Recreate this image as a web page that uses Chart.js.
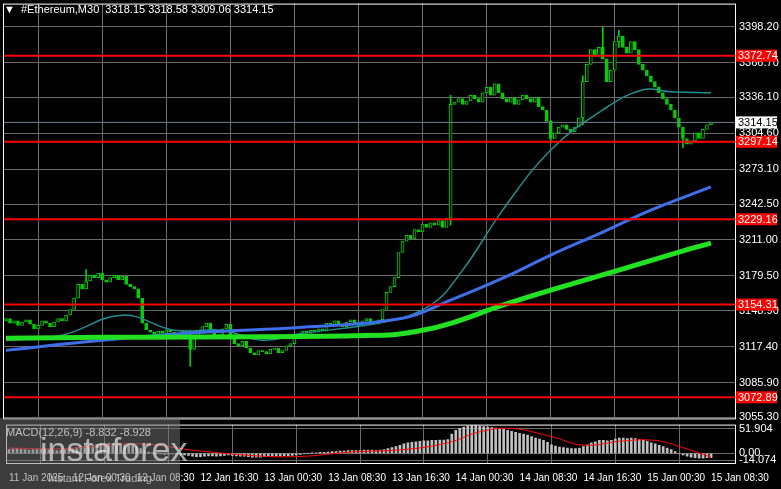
<!DOCTYPE html>
<html><head><meta charset="utf-8">
<script src="https://cdn.jsdelivr.net/npm/chart.js@4"></script>
<style>
body{margin:0;background:#000;width:781px;height:489px;overflow:hidden;position:relative;font-family:"Liberation Sans",sans-serif}
#c1{position:absolute;left:0;top:-7px}
#c2{position:absolute;left:0;top:414px}
.t{position:absolute;color:#fff;font-size:11px;white-space:pre}
</style></head><body>
<canvas id="c1" width="781" height="436"></canvas>
<canvas id="c2" width="781" height="75"></canvas>
<div class="t" style="left:4px;top:3px">▼  #Ethereum,M30  3318.15 3318.58 3309.06 3314.15</div>
<div class="t" style="left:6px;top:426px">MACD(12,26,9) -8.832 -8.928</div>
<div style="position:absolute;left:0;top:418px;width:180px;height:71px;background:rgba(120,120,120,0.5)"></div>
<div class="t" style="left:40px;top:430px;font-size:34px;color:rgba(230,230,230,0.7)">instaforex</div>
<div class="t" style="left:48px;top:472px;font-size:11px;color:rgba(230,230,230,0.7)">Instant Forex Trading</div>
<script>
const closes=[3142,3138,3140,3136,3139,3141,3137,3133,3136,3140,3138,3135,3139,3142,3140,
3145,3150,3160,3172,3168,3175,3180,3178,3182,3176,
3174,3178,3180,3176,3179,3172,3170,3168,3160,
3138,3132,3130,3128,3131,3129,3132,3130,3127,3129,3131,3128,
3115,3125,3130,
3135,3138,3130,3126,3128,3133,3137,3124,3120,3118,3122,
3116,3112,3110,3114,3113,3111,3115,3116,3112,3114,3118,3120,
3125,3128,3131,3129,3132,3130,3133,3131,
3138,3136,3140,3137,3135,3139,3141,3138,3136,3140,3142,3139,3137,3141,3150,
3165,3170,3178,3200,3210,
3215,3212,3220,3218,3225,3222,3226,3224,3228,3222,3230,
3330,
3332,3335,3330,3333,3338,3335,3332,3340,3345,3338,
3348,3340,3335,3332,3336,3330,3334,3338,3335,3332,3336,3328,3325,3315,
3300,3305,3310,3312,3308,3306,3310,3318,
3350,3365,3378,3372,3380,
3370,3350,3360,3385,3390,
3380,3375,3385,3378,3365,3360,
3355,3350,3345,3340,3335,3330,3325,
3318,3310,3300,3295,3298,3305,3300,3308,3312,3314];
const firstOpen=3140;
const spikes=[[46,3100,3132],[111,3224,3338],[149,3378,3398],[153,3380,3395],[144,3312,3355],[136,3296,3316],[169,3292,3303],[20,3168,3185]];
const maFast=[[0,3122.9],[14,3127.3],[29,3145.0],[42,3131.7],[54,3131.7],[64,3122.9],[74,3129.1],[94,3138.7],[106,3153.7],[114,3184.5],[124,3237.2],[136,3290.0],[149,3325.1],[159,3342.8],[166,3341.0],[176,3340.1]];
const maMid=[[0,3114.1],[24,3122.9],[49,3129.9],[74,3134.3],[99,3142.2],[111,3158.1],[124,3177.4],[136,3197.7],[149,3217.9],[161,3237.2],[176,3257.5]];
const maSlow=[[0,3124.7],[24,3125.6],[94,3127.3],[104,3131.7],[111,3137.8],[124,3153.7],[136,3166.9],[153,3184.5],[168,3200.3],[176,3208.2]];
const levels=[3372.74,3297.14,3229.16,3154.31,3072.89];
const lastPrice=3314.15;
const priceTicks=[3055.3,3085.9,3117.4,3148.9,3179.5,3211.0,3242.5,3273.1,3304.6,3336.1,3366.7,3398.2];
const hist=[8,9,10,9,8,7,8,9,10,9,8,7,6,7,8,
9,10,12,14,15,16,18,19,20,20,
21,20,19,18,17,16,15,13,10,
6,3,1,0,-1,-2,-2,-1,-2,-3,-3,-4,
-6,-7,-7,
-6,-5,-5,-6,-5,-4,-3,-4,-5,-6,-6,
-7,-8,-8,-8,-7,-7,-6,-6,-6,-5,-5,-4,
-3,-2,-1,0,1,1,2,2,
3,4,4,5,5,6,6,6,6,7,7,7,6,7,8,
10,12,14,17,20,
22,23,24,25,26,26,27,27,28,28,29,
40,
48,52,55,57,58,58,57,56,55,54,
53,52,50,48,46,44,42,40,38,35,32,30,27,23,
18,15,13,12,11,10,10,11,
14,18,22,24,27,
27,26,27,30,32,
32,31,32,31,29,27,
25,22,20,17,14,11,8,
4,0,-3,-6,-8,-9,-10,-10,-9,-9];
const signal=[[0,11],[14,10],[32,20],[48,5],[64,-6],[74,-6],[86,3],[99,8],[110,22],[118,45],[126,52],[136,35],[144,17],[154,26],[162,27],[169,12],[176,-8]];
const timeLabels={0:"11 Jan 2025",16:"12 Jan 00:30",32:"12 Jan 08:30",48:"12 Jan 16:30",64:"13 Jan 00:30",80:"13 Jan 08:30",96:"13 Jan 16:30",112:"14 Jan 00:30",128:"14 Jan 08:30",144:"14 Jan 16:30",160:"15 Jan 00:30",176:"15 Jan 08:30"};
const macdTicks=[-14.074,0,51.904];

const XMIN=-0.75,XMAX=182;
const FONT={size:11,family:'Liberation Sans'};
const bodies=[],wicks=[],bodyBg=[];
closes.forEach((c,i)=>{const o=i?closes[i-1]:firstOpen;bodies.push({x:i,y:[o,c===o?c+0.6:c]});bodyBg.push(c>=o?'#000':'#00d000');});
spikes.forEach(s=>wicks.push({x:s[0],y:[s[1],s[2]]}));
const pts=a=>a.map(p=>({x:p[0],y:p[1]}));
const grid={color:'#6a6a6a',borderDash:[3,3],lineWidth:1,drawTicks:false};
const vTicks=Object.keys(timeLabels).map(Number);
function afterFitW(s){s.width=46;}

const levelPlugin={id:'lv',afterDatasetsDraw(ch){
 const c=ch.ctx,y=ch.scales.y,a=ch.chartArea;c.save();
 c.font='11px "Liberation Sans"';c.textBaseline='middle';
 const py=y.getPixelForValue(lastPrice);
 c.strokeStyle='#708090';c.lineWidth=1;c.beginPath();c.moveTo(a.left,py);c.lineTo(a.right,py);c.stroke();
 levels.forEach(v=>{const p=y.getPixelForValue(v);c.strokeStyle='#ff0000';c.lineWidth=2;c.beginPath();c.moveTo(a.left,p);c.lineTo(a.right,p);c.stroke();
  c.fillStyle='#ff0000';c.fillRect(a.right+1,p-6,41,12);c.fillStyle='#fff';c.fillText(v.toFixed(2),a.right+3,p+0.5);});
 c.fillStyle='#fff';c.fillRect(a.right+1,py-6,41,12);c.fillStyle='#000';c.fillText(lastPrice.toFixed(2),a.right+3,py+0.5);
 c.strokeStyle='#fff';c.lineWidth=1;c.strokeRect(a.left+0.5,a.top+0.5,a.right-a.left,a.bottom-a.top);
 c.restore();}};

new Chart(document.getElementById('c1'),{
 data:{datasets:[
  {type:'bar',data:wicks,backgroundColor:'#00d000',barThickness:1,grouped:false,order:3},
  {type:'bar',data:bodies,backgroundColor:bodyBg,borderColor:'#00d000',borderWidth:1,borderSkipped:false,barThickness:3,grouped:false,order:2},
  {type:'line',data:pts(maSlow),borderColor:'#22e022',borderWidth:5,pointRadius:0,tension:0.4,order:1},
  {type:'line',data:pts(maMid),borderColor:'#3f6fe8',borderWidth:3,pointRadius:0,tension:0.4,order:1},
  {type:'line',data:pts(maFast),borderColor:'#1f8f8f',borderWidth:1.5,pointRadius:0,tension:0.4,order:1}
 ]},
 options:{responsive:false,animation:false,events:[],layout:{padding:{left:3,top:4,right:0,bottom:1}},
  plugins:{legend:{display:false},tooltip:{enabled:false}},
  scales:{
   x:{type:'linear',min:XMIN,max:XMAX,offset:false,grid:grid,border:{display:false},
      afterBuildTicks(s){s.ticks=vTicks.map(v=>({value:v}));},ticks:{display:false}},
   y:{position:'right',min:3054.4,max:3418.4,grid:grid,border:{display:false},afterFit:afterFitW,
      afterBuildTicks(s){s.ticks=priceTicks.map(v=>({value:v}));},
      ticks:{color:'#fff',font:FONT,padding:4,callback:v=>v.toFixed(2)}}
  }},plugins:[levelPlugin]});

const borderPlugin={id:'bd',afterDatasetsDraw(ch){const c=ch.ctx,a=ch.chartArea;c.save();c.strokeStyle='#fff';c.strokeRect(a.left+0.5,a.top+0.5,a.right-a.left,a.bottom-a.top);c.restore();}};
new Chart(document.getElementById('c2'),{
 data:{datasets:[
  {type:'line',data:pts(signal),borderColor:'#ff0000',borderWidth:1,pointRadius:0,tension:0.4,order:1},
  {type:'bar',data:hist.map((v,i)=>({x:i,y:v})),backgroundColor:'#c0c0c0',barThickness:2,order:2}
 ]},
 options:{responsive:false,animation:false,events:[],layout:{padding:{left:3,top:1,right:0,bottom:2}},
  plugins:{legend:{display:false},tooltip:{enabled:false}},
  scales:{
   x:{type:'linear',min:XMIN,max:XMAX,offset:false,grid:grid,border:{display:false},afterFit(s){s.height=24;},
      afterBuildTicks(s){s.ticks=vTicks.map(v=>({value:v}));},
      ticks:{color:'#fff',font:{size:10,family:'Liberation Sans'},maxRotation:0,autoSkip:false,align:'start',padding:9,callback:v=>timeLabels[v]||''}},
   y:{position:'right',min:-20,max:60,grid:grid,border:{display:false},afterFit:afterFitW,
      afterBuildTicks(s){s.ticks=macdTicks.map(v=>({value:v}));},
      ticks:{color:'#fff',font:FONT,padding:4,callback:v=>v===0?'0.00':v.toFixed(3)}}
  }},plugins:[borderPlugin]});
</script></body></html>
